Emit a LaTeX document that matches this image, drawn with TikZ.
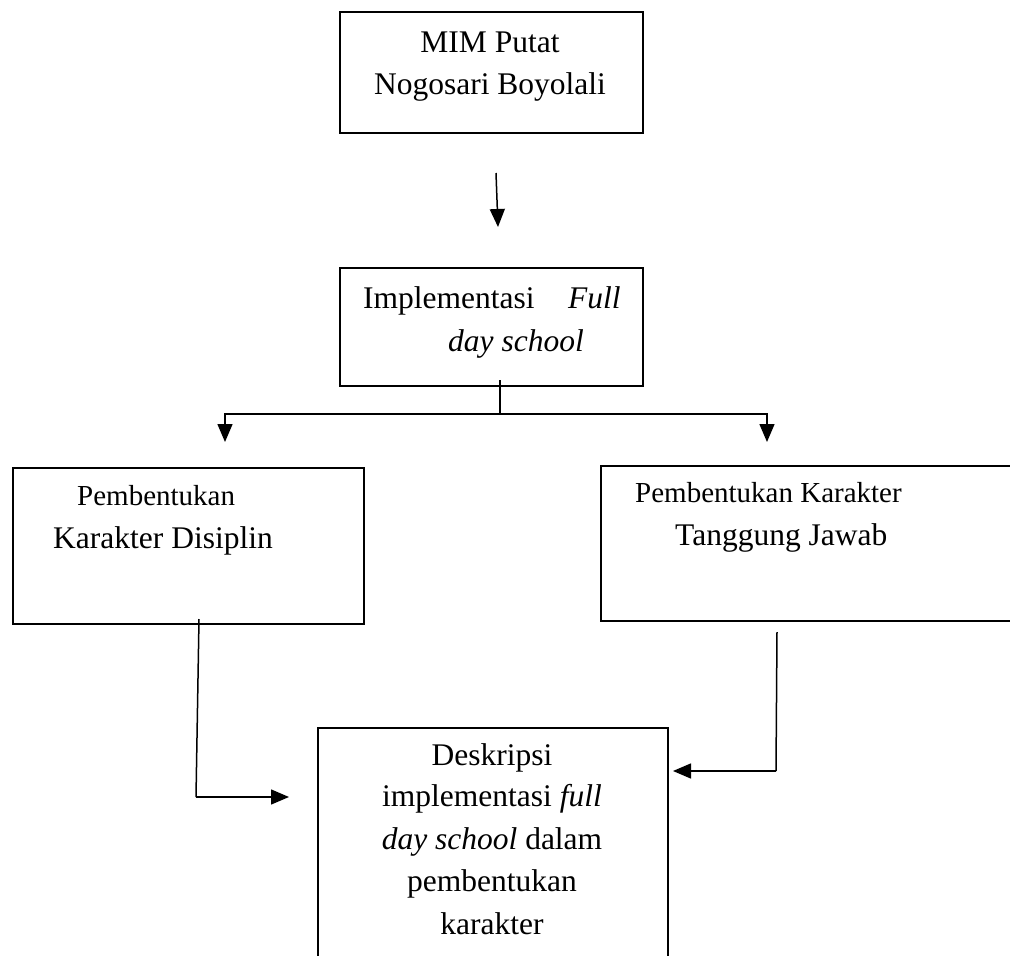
\documentclass[tikz,border=0pt]{standalone}
\usepackage{fontspec}
\setmainfont{Liberation Serif}
\usetikzlibrary{arrows.meta}

\begin{document}
\begin{tikzpicture}[x=1pt,y=1pt,yscale=-1,
    box/.style={draw,line width=1.8pt,rectangle,inner sep=0pt,anchor=north west},
    txt/.style={inner sep=0pt,anchor=base,font=\fontsize{31.5}{42}\selectfont},
    txtw/.style={txt,anchor=base west},
    small/.style={font=\fontsize{29}{38}\selectfont},
    conn/.style={line width=1.5pt},
    arr/.style={conn,-{Triangle[length=18pt,width=15pt]}}]
    \useasboundingbox (0,0) rectangle (1010,956);
    \clip (0,0) rectangle (1010,956);
    % boxes
    \node[box,minimum width=303pt,minimum height=121pt] (mim) at (339,11) {};
    \node[box,minimum width=303pt,minimum height=118pt] (impl) at (339,267) {};
    \node[box,minimum width=351pt,minimum height=156pt] (disiplin) at (12,467) {};
    \node[box,minimum width=430pt,minimum height=155pt] (tanggung) at (600,465) {};
    \node[box,minimum width=350pt,minimum height=260pt] (deskripsi) at (317,727) {};
    % texts
    \node[txt] (mimA) at (490,52) {MIM Putat};
    \node[txt] (mimB) at (490,94) {Nogosari Boyolali};
    \node[txtw] (implA) at (363,308) {Implementasi};
    \node[txtw] (implB) at (568,308) {\textit{Full}};
    \node[txtw] (implC) at (448,351) {\textit{day school}};
    \node[txtw,small] (disA) at (77,505) {Pembentukan};
    \node[txtw] (disB) at (53,548) {Karakter Disiplin};
    \node[txtw,small] (tjA) at (635,502) {Pembentukan Karakter};
    \node[txtw] (tjB) at (675,545) {Tanggung Jawab};
    \node[txt] (desA) at (492,765) {Deskripsi};
    \node[txt] (desB) at (492,806) {implementasi \textit{full}};
    \node[txt] (desC) at (492,849) {\textit{day school} dalam};
    \node[txt] (desD) at (492,891) {pembentukan};
    \node[txt] (desE) at (492,934) {karakter};
    % connectors
    \coordinate (topFrom) at (496,173);
    \coordinate (topTo) at (498,227);
    \draw[arr] (topFrom) -- (topTo);
    \coordinate (stemTop) at (500,380);
    \coordinate (fork) at (500,414);
    \coordinate (leftDrop) at (225,442);
    \coordinate (rightDrop) at (767,442);
    \draw[conn] (stemTop) -- (fork);
    \draw[arr] (fork) -| (leftDrop);
    \draw[arr] (fork) -| (rightDrop);
    \coordinate (lTop) at (199,619);
    \coordinate (lCorner) at (196,797);
    \coordinate (lTip) at (289,797);
    \draw[conn] (lTop) -- (lCorner);
    \draw[arr] (lCorner) -- (lTip);
    \coordinate (rTop) at (777,632);
    \coordinate (rCorner) at (776,771);
    \coordinate (rTip) at (673,771);
    \draw[conn] (rTop) -- (rCorner);
    \draw[arr] (rCorner) -- (rTip);
\end{tikzpicture}
\end{document}
